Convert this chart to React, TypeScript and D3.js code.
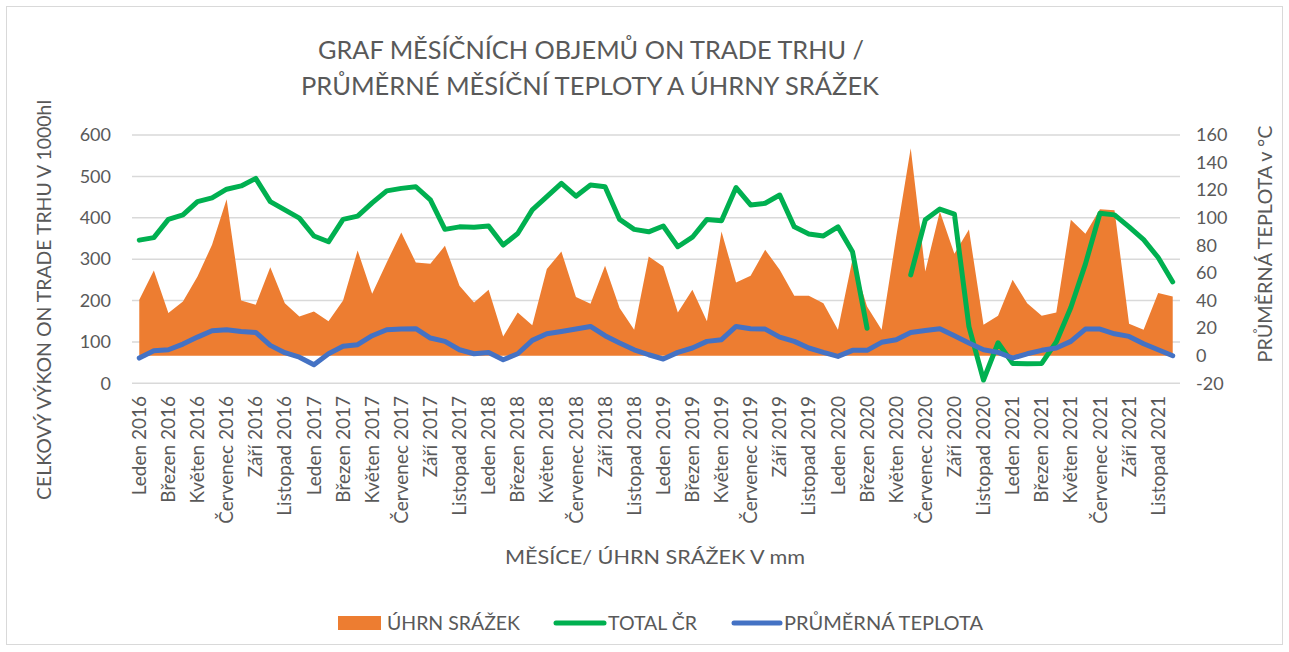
import React from "react";
import * as d3 from "d3";

const monthNames = ["Leden", "Únor", "Březen", "Duben", "Květen", "Červen", "Červenec", "Srpen", "Září", "Říjen", "Listopad", "Prosinec"];
const years = [2016, 2017, 2018, 2019, 2020, 2021];
const categories: string[] = years.flatMap((y) => monthNames.map((m) => `${m} ${y}`));

// TOTAL ČR (left axis, 1000 hl); null = missing months
const totalCR: (number | null)[] = [
  346, 352, 396, 407, 439, 448, 469, 477, 495, 439, 419, 399,
  356, 342, 396, 404, 436, 465, 471, 475, 443, 372, 378, 377,
  380, 334, 362, 419, 451, 483, 452, 479, 475, 396, 372, 366,
  380, 330, 353, 396, 393, 473, 431, 435, 455, 378, 361, 356,
  378, 318, 133, null, null, 262, 395, 421, 409, 137, 8, 98,
  48, 47, 48, 100, 183, 288, 411, 407, 378, 347, 304, 245,
];

// ÚHRN SRÁŽEK (right axis, mm)
const precipitation: number[] = [
  40.5, 61.8, 30.9, 39.3, 57.4, 80.4, 113.4, 40, 36.9, 64.2, 38.1, 28.5,
  32, 25, 40, 76.3, 44.9, 67.6, 89.3, 67.6, 66.6, 79.7, 50.7, 38.6,
  47.8, 14, 31.4, 22, 62.8, 75.5, 42.5, 37.7, 65.2, 34.5, 18.8, 71.9,
  64.7, 31.4, 47.8, 24.9, 90, 53.1, 57.9, 76.8, 62.3, 43.4, 43.4, 38.1,
  18.8, 70, 35.7, 18.8, 86, 150.4, 61.1, 104.5, 74, 91.5, 22.4, 29,
  55, 38.1, 29, 31.4, 98.5, 88.5, 106.2, 105.5, 23.2, 18.8, 45.4, 43,
];

// PRŮMĚRNÁ TEPLOTA (right axis, °C)
const temperature: number[] = [
  -1.7, 3.6, 4.3, 8.4, 13.5, 18.1, 18.8, 17.6, 16.9, 7.5, 2.2, -1.1,
  -6.5, 1.4, 6.8, 8, 14.5, 18.8, 19.3, 19.6, 12.8, 10.4, 4.3, 1.4,
  2.4, -2.9, 1.4, 11.1, 15.9, 17.6, 19.3, 21.2, 14.5, 9.2, 4.3, 0.7,
  -2.4, 2.4, 5.6, 10.4, 11.6, 21.2, 19.6, 19.3, 13.5, 10.4, 5.6, 2.4,
  -0.5, 3.9, 3.9, 9.7, 11.6, 16.9, 18.3, 19.6, 14.5, 9.2, 4.3, 2.4,
  -1.7, 1.4, 3.9, 5.6, 10.4, 19.3, 19.3, 15.9, 14, 8.7, 4.3, 0,
];

const leftTicks = [0, 100, 200, 300, 400, 500, 600];
const rightTicks = [-20, 0, 20, 40, 60, 80, 100, 120, 140, 160];

const titleLines = ["GRAF MĚSÍČNÍCH OBJEMŮ ON TRADE TRHU /", "PRŮMĚRNÉ MĚSÍČNÍ TEPLOTY A ÚHRNY SRÁŽEK"];
const leftTitle = "CELKOVÝ VÝKON ON  TRADE TRHU V 1000hl";
const rightTitle = "PRŮMĚRNÁ TEPLOTA v °C";
const xTitle = "MĚSÍCE/ ÚHRN SRÁŽEK V mm";
const legendItems = ["ÚHRN SRÁŽEK", "TOTAL ČR", "PRŮMĚRNÁ TEPLOTA"];

const W = 1289;
const H = 652;
const plot = { left: 132, right: 1180, top: 135, bottom: 383.3 };
const textColor = "#595959";
const FONT = "Lato, 'Open Sans', sans-serif";

export default function App() {
  const x = d3.scalePoint<string>().domain(categories).range([plot.left, plot.right]).padding(0.5);
  const yL = d3.scaleLinear().domain([0, 600]).range([plot.bottom, plot.top]);
  const yR = d3.scaleLinear().domain([-20, 160]).range([plot.bottom, plot.top]);

  const area = d3
    .area<number>()
    .x((_, i) => x(categories[i]) as number)
    .y0(yR(0))
    .y1((d) => yR(d));

  const greenLine = d3
    .line<number | null>()
    .defined((d) => d !== null)
    .x((_, i) => x(categories[i]) as number)
    .y((d) => yL(d as number));

  const blueLine = d3
    .line<number>()
    .x((_, i) => x(categories[i]) as number)
    .y((d) => yR(d));

  return (
    <svg
      width={W}
      height={H}
      style={{ position: "absolute", left: 0, top: 0, background: "#fff" }}
      fontFamily={FONT}
    >
      <rect x={6.5} y={6.5} width={1276} height={638} fill="#fff" stroke="#D9D9D9" strokeWidth={1} />

      {/* title */}
      <text x={591} y={59} textAnchor="middle" fontSize={25} fill={textColor} textLength={546} lengthAdjust="spacingAndGlyphs">
        {titleLines[0]}
      </text>
      <text x={590} y={95} textAnchor="middle" fontSize={25} fill={textColor} textLength={578} lengthAdjust="spacingAndGlyphs">
        {titleLines[1]}
      </text>

      {/* gridlines */}
      {leftTicks.map((t) => (
        <line key={t} x1={plot.left} x2={plot.right} y1={yL(t)} y2={yL(t)} stroke="#D9D9D9" strokeWidth={1.5} />
      ))}

      {/* left ticks */}
      {leftTicks.map((t) => (
        <text key={t} x={111} y={yL(t)} dy="0.35em" textAnchor="end" fontSize={18} fill={textColor}>
          {t}
        </text>
      ))}
      {/* right ticks */}
      {rightTicks.map((t) => (
        <text key={t} x={1196} y={yR(t)} dy="0.35em" textAnchor="start" fontSize={18} fill={textColor}>
          {t}
        </text>
      ))}

      {/* series */}
      <path d={area(precipitation) || ""} fill="#ED7D31" />
      <path d={greenLine(totalCR) || ""} fill="none" stroke="#00B050" strokeWidth={5} strokeLinejoin="round" strokeLinecap="round" />
      <path d={blueLine(temperature) || ""} fill="none" stroke="#4472C4" strokeWidth={5} strokeLinejoin="round" strokeLinecap="round" />

      {/* x labels */}
      {categories.map((c, i) =>
        i % 2 === 0 ? (
          <text
            key={c}
            transform={`translate(${x(c)},396) rotate(-90)`}
            dy="0.35em"
            textAnchor="end"
            fontSize={19}
            fill={textColor}
          >
            {c}
          </text>
        ) : null
      )}

      {/* axis titles */}
      <text transform="translate(44,300) rotate(-90)" dy="0.35em" textAnchor="middle" fontSize={20} fill={textColor} textLength={400} lengthAdjust="spacingAndGlyphs">
        {leftTitle}
      </text>
      <text transform="translate(1265,244) rotate(-90)" dy="0.35em" textAnchor="middle" fontSize={20} fill={textColor} textLength={237} lengthAdjust="spacingAndGlyphs">
        {rightTitle}
      </text>
      <text x={655} y={564} textAnchor="middle" fontSize={20} fill={textColor} textLength={300} lengthAdjust="spacingAndGlyphs">
        {xTitle}
      </text>

      {/* legend */}
      <rect x={338} y={616} width={43} height={14} fill="#ED7D31" />
      <text x={387} y={630} fontSize={19} fill={textColor} textLength={133} lengthAdjust="spacingAndGlyphs">
        {legendItems[0]}
      </text>
      <line x1={556} x2={604} y1={623} y2={623} stroke="#00B050" strokeWidth={5} strokeLinecap="round" />
      <text x={608} y={630} fontSize={19} fill={textColor} textLength={89} lengthAdjust="spacingAndGlyphs">
        {legendItems[1]}
      </text>
      <line x1={734} x2={780} y1={623} y2={623} stroke="#4472C4" strokeWidth={5} strokeLinecap="round" />
      <text x={784} y={630} fontSize={19} fill={textColor} textLength={199} lengthAdjust="spacingAndGlyphs">
        {legendItems[2]}
      </text>
    </svg>
  );
}
